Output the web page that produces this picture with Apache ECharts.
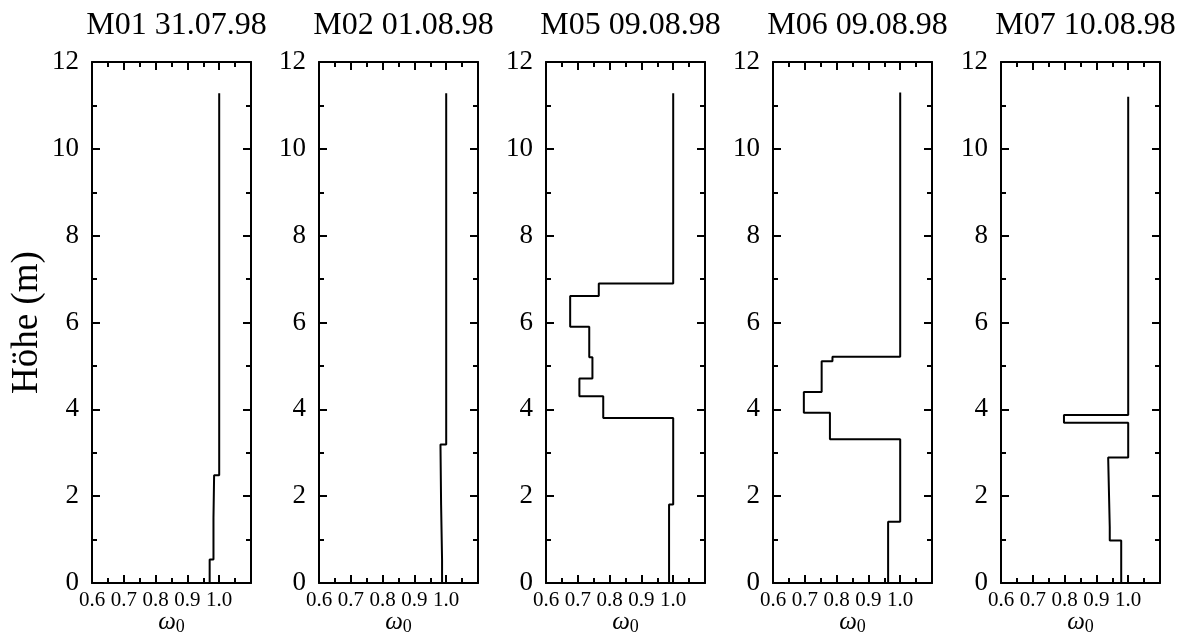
<!DOCTYPE html>
<html>
<head>
<meta charset="utf-8">
<script src="https://cdn.jsdelivr.net/npm/echarts@6/dist/echarts.min.js"></script>
<style>
html, body { margin: 0; padding: 0; background: #fff; }
#chart { width: 1180px; height: 636px; }
</style>
</head>
<body>
<div id="chart"></div>
<script>
// Messprofile: Schichtgrenzen (Höhe in m) und omega_0 je Schicht, von unten nach oben
const panelTitles = ['M01 31.07.98', 'M02 01.08.98', 'M05 09.08.98', 'M06 09.08.98', 'M07 10.08.98'];

const m01Heights = [0, 0.54, 1.5, 2.48, 11.28];
const m01Omega = [0.970, 0.982, 0.984, 1.0];

const m02Heights = [0, 0.52, 1.79, 3.19, 11.28];
const m02Omega = [0.987, 0.984, 0.982, 1.0];

const m05Heights = [0, 1.81, 3.80, 4.30, 4.71, 5.20, 5.90, 6.61, 6.90, 11.28];
const m05Omega = [0.987, 1.0, 0.780, 0.705, 0.746, 0.736, 0.676, 0.766, 1.0];

const m06Heights = [0, 1.41, 3.31, 3.92, 4.40, 5.11, 5.21, 11.3];
const m06Omega = [0.962, 1.0, 0.779, 0.697, 0.753, 0.787, 1.0];

const m07Heights = [0, 0.98, 1.29, 2.89, 3.69, 3.87, 11.2];
const m07Omega = [0.978, 0.942, 0.937, 1.0, 0.798, 1.0];

const xTickLabels = ['0.6', '0.7', '0.8', '0.9', '1.0'];
const yTickLabels = ['0', '2', '4', '6', '8', '10', '12'];

const profiles = [
    [m01Heights, m01Omega],
    [m02Heights, m02Omega],
    [m05Heights, m05Omega],
    [m06Heights, m06Omega],
    [m07Heights, m07Omega]
];

const font = "'Liberation Serif', 'DejaVu Serif', serif";
const panelLeft = [92, 319, 546, 773, 1001];
const panelWidth = 159;

// Stufenprofil: je Schicht eine senkrechte Strecke
function stepPoints(heights, omega) {
    let pts = [];
    for (let i = 0; i < omega.length; i++) {
        pts.push([omega[i], heights[i]]);
        pts.push([omega[i], heights[i + 1]]);
    }
    return pts;
}

let grid = [], xAxis = [], yAxis = [], series = [], title = [];

profiles.forEach((p, i) => {
    grid.push({ left: panelLeft[i], top: 62, width: panelWidth, height: 521, outerBoundsMode: 'none' });
    title.push({
        text: panelTitles[i],
        left: panelLeft[i] + panelWidth / 2,
        textAlign: 'center',
        top: 5,
        textStyle: { fontFamily: font, fontSize: 32, fontWeight: 'normal', color: '#000' }
    });
    const axisCommon = {
        axisLine: { show: true, onZero: false, lineStyle: { color: '#000', width: 2 } },
        axisTick: { show: true, inside: true, length: 8, lineStyle: { color: '#000', width: 2 } },
        minorTick: { show: true, splitNumber: 2, length: 5, lineStyle: { color: '#000', width: 2 } },
        splitLine: { show: false },
        minorSplitLine: { show: false }
    };
    // unten mit Beschriftung, oben nur Striche
    xAxis.push(Object.assign({}, axisCommon, {
        type: 'value', gridIndex: i, position: 'bottom',
        min: 0.6, max: 1.1, interval: 0.1,
        name: '{w|ω}{s|0}', nameLocation: 'middle', nameGap: 25, nameMoveOverlap: false,
        nameTextStyle: {
            rich: {
                w: { fontFamily: font, fontStyle: 'italic', fontSize: 25, color: '#000' },
                s: { fontFamily: font, fontSize: 18, color: '#000', padding: [10, 0, 0, 0] }
            }
        },
        axisLabel: {
            margin: 7, fontFamily: font, fontSize: 21, color: '#000',
            formatter: v => {
                let t = v.toFixed(1);
                return xTickLabels.indexOf(t) >= 0 ? t : '';
            }
        }
    }));
    xAxis.push(Object.assign({}, axisCommon, {
        type: 'value', gridIndex: i, position: 'top',
        min: 0.6, max: 1.1, interval: 0.1,
        axisLabel: { show: false }
    }));
    yAxis.push(Object.assign({}, axisCommon, {
        type: 'value', gridIndex: i, position: 'left',
        min: 0, max: 12, interval: 2,
        name: i === 0 ? 'Höhe (m)' : '', nameLocation: 'middle', nameGap: 46, nameRotate: 90,
        nameMoveOverlap: false,
        nameTextStyle: { fontFamily: font, fontSize: 37, color: '#000' },
        axisLabel: {
            margin: 13, fontFamily: font, fontSize: 27, color: '#000',
            formatter: v => (yTickLabels.indexOf(String(v)) >= 0 ? String(v) : '')
        }
    }));
    yAxis.push(Object.assign({}, axisCommon, {
        type: 'value', gridIndex: i, position: 'right',
        min: 0, max: 12, interval: 2,
        axisLabel: { show: false }
    }));
    series.push({
        type: 'line',
        xAxisIndex: i * 2,
        yAxisIndex: i * 2,
        data: stepPoints(p[0], p[1]),
        showSymbol: false,
        symbol: 'none',
        animation: false,
        lineStyle: { color: '#000', width: 2 }
    });
});

let chart = echarts.init(document.getElementById('chart'));
chart.setOption({
    backgroundColor: '#fff',
    animation: false,
    title: title,
    grid: grid,
    xAxis: xAxis,
    yAxis: yAxis,
    series: series
});
window.addEventListener('resize', () => {
    chart.resize();
});
</script>
</body>
</html>
